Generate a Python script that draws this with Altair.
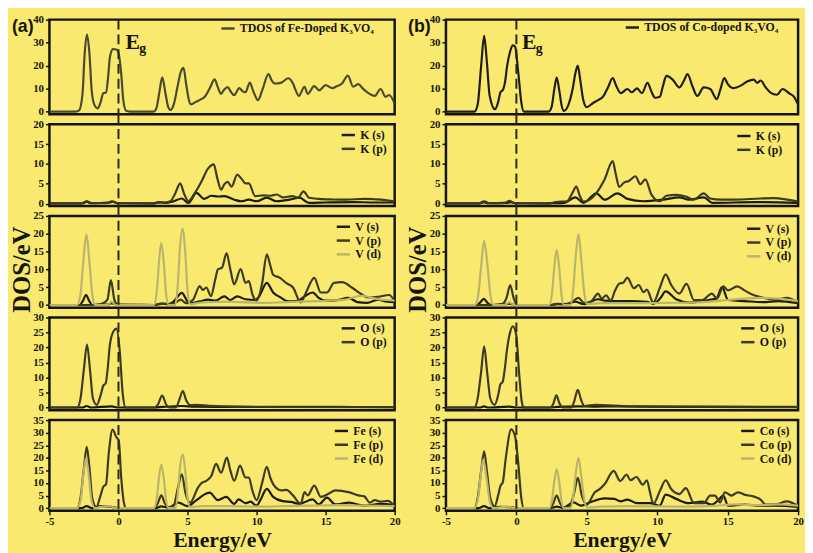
import altair as alt
import pandas as pd

BG = "#F9E96E"
SERIF = "Liberation Serif"
SANS = "Liberation Sans"
C_S = "#1C1C0E"
C_P = "#3C3B22"
C_D = "#BBB46C"
C_TDOS_FE = "#4B4A2C"
C_TDOS_CO = "#1E1E10"
INK = "#151510"

# ---------------- (a) Fe-doped K3VO4 ----------------
TDOS_FE = [(-5,0),(-3.1,0),(-2.85,0.5),(-2.6,8),(-2.45,25),(-2.28,33.5),(-2.1,25),(-1.95,10),(-1.75,3),(-1.5,1.4),(-1.3,4),(-1.1,8),(-0.9,8.3),(-0.75,15),(-0.62,23.7),(-0.4,27.2),(-0.15,27),(-0.03,26.2),(0.1,22),(0.21,15.6),(0.35,5),(0.56,0.3),(0.8,0),(2.55,0),(2.75,1.5),(2.95,8),(3.17,14.9),(3.4,8),(3.6,2),(3.76,0.7),(4.0,3),(4.25,10),(4.5,17),(4.71,19),(4.9,12),(5.1,5),(5.25,3.1),(5.6,4.2),(6.0,5.4),(6.25,6.4),(6.6,10),(6.96,14),(7.2,10.5),(7.43,7.7),(7.65,9.5),(7.9,10.6),(8.15,8.5),(8.38,7.1),(8.55,8.5),(8.73,10.2),(9.0,8.8),(9.2,8.4),(9.51,12.6),(9.75,9),(10.1,5.0),(10.45,10),(10.86,16.3),(11.1,13.5),(11.33,12.2),(11.8,12.6),(12.28,14.5),(12.64,12.2),(12.85,9),(13.06,6.8),(13.47,10.8),(13.7,7.7),(14.18,11.1),(14.53,9.2),(15.0,11.5),(15.48,10.2),(15.8,11),(16.19,12.2),(16.61,15.6),(17.0,10.8),(17.37,11.9),(17.7,10),(18.08,8.1),(18.56,6.8),(18.98,9.8),(19.34,6.4),(19.6,7.2),(20,3.4)]
K_S_FE = [(-5,0.1),(-2.6,0.1),(-2.3,0.5),(-2.0,0.1),(-0.6,0.3),(-0.4,0.5),(0,0.1),(2.5,0.1),(3.0,0.3),(3.5,0.2),(4.0,0.6),(4.59,1.3),(5.06,0.2),(5.65,2.7),(6.2,1.2),(6.72,2.0),(7.2,1.8),(7.67,1.9),(8.38,1.0),(8.9,0.6),(9.44,1.0),(10.0,0.6),(10.74,1.5),(11.45,0.6),(12.4,1.0),(13.1,1.5),(13.8,0.2),(15,0.3),(17,0.4),(18.5,0.3),(20,0.3)]
K_P_FE = [(-5,0),(-2.7,0),(-2.3,0.6),(-1.9,0.1),(-0.8,0.2),(-0.5,0.6),(-0.1,0.1),(2.5,0),(2.93,0.4),(3.4,0.3),(3.76,0.6),(4.1,2.5),(4.47,5.1),(4.75,2.5),(5.06,0.65),(5.5,2.5),(6.0,5.5),(6.48,8.8),(6.9,9.9),(7.15,6.5),(7.43,3.5),(7.65,4.8),(7.9,5.5),(8.19,4.3),(8.6,7.3),(8.9,6.3),(9.2,5.1),(9.44,5.1),(9.9,1.9),(10.5,2.1),(11.0,2.0),(11.45,2.3),(11.9,1.6),(12.6,1.9),(13.0,1.5),(13.4,3.1),(13.8,1.5),(14.5,1.2),(15.48,1.05),(16.5,1.0),(17.8,1.2),(18.5,1.1),(19.3,0.9),(20,0.5)]
V_S_FE = [(-5,0),(-2.8,0),(-2.6,1.0),(-2.35,2.8),(-2.1,1.0),(-1.9,0),(-0.8,0.1),(-0.5,0.5),(-0.2,0.1),(2.6,0),(3.1,0.4),(3.6,0.2),(4.0,1.0),(4.59,3.4),(5.0,1.0),(5.3,0.5),(5.89,1.0),(6.5,1.5),(7.0,1.2),(7.67,2.4),(8.1,1.4),(8.6,2.4),(9.2,1.6),(9.9,1.4),(10.2,2.5),(10.74,6.2),(11.2,3.5),(11.7,2.2),(12.3,1.0),(13.0,1.2),(13.5,2.5),(14.06,3.5),(14.5,2.0),(15.0,1.2),(15.6,1.2),(16.66,2.0),(17.3,0.8),(18,0.6),(18.8,1.5),(19.3,1.0),(20,0.8)]
V_P_FE = [(-5,0),(-1.8,0),(-1.2,0.3),(-0.8,1.5),(-0.55,7.0),(-0.3,1.5),(-0.1,0.2),(0.2,0),(2.6,0),(3.1,0.3),(3.8,0.3),(4.2,0.8),(4.5,1.5),(4.9,0.5),(5.4,1.5),(5.89,5.3),(6.1,4.2),(6.36,4.9),(6.7,2.5),(7.0,7),(7.2,10),(7.5,10.5),(7.83,14.5),(8.1,10),(8.38,5.8),(8.85,10.1),(9.2,6.2),(9.44,6.7),(9.7,3),(10.0,1.2),(10.4,6),(10.74,14.2),(11.0,11),(11.2,8.5),(11.7,7.6),(12.16,6.1),(12.64,4.9),(13.2,0.7),(13.58,3.5),(14.18,7.6),(14.65,3.5),(15.1,3.5),(15.6,6.2),(16.2,6.4),(16.9,4.9),(17.6,3.0),(18.08,2.1),(18.8,2.3),(19.6,2.8),(20,1.0)]
V_D_FE = [(-5,0),(-3.0,0),(-2.75,3),(-2.55,12),(-2.32,19.8),(-2.1,12),(-1.9,3),(-1.69,0),(-0.8,0),(-0.5,0.9),(-0.2,0),(2.58,0),(2.8,5),(2.95,13),(3.1,17.4),(3.3,11),(3.45,3),(3.64,0),(4.11,0),(4.3,6),(4.45,16),(4.64,21.4),(4.85,14),(5.0,4),(5.18,0.2),(6.0,0.7),(8.0,0.9),(10.5,0.6),(12.8,0.9),(15.2,1.2),(16.4,1.5),(17.6,2.6),(18.8,1.6),(20,1.2)]
O_S_FE = [(-5,0),(-2.6,0),(-2.3,0.5),(-2.0,0),(-0.5,0.4),(0,0),(2.6,0),(3.2,0.2),(4.6,0.5),(5.5,0.3),(8,0.2),(20,0.1)]
O_P_FE = [(-5,0),(-2.99,0),(-2.75,3),(-2.5,13),(-2.28,21.0),(-2.05,12),(-1.85,3),(-1.57,0.9),(-1.3,4),(-1.09,7.4),(-0.93,8.0),(-0.78,13),(-0.62,21),(-0.35,25.5),(-0.15,26.3),(0.09,18.9),(0.3,5),(0.52,0),(2.6,0),(2.85,1),(3.17,4.0),(3.45,1),(3.7,0),(4.15,0),(4.4,2.5),(4.66,5.5),(4.9,2.5),(5.18,0.8),(5.6,0.9),(6.6,0.6),(8.4,0.3),(12,0.2),(16,0.2),(20,0.1)]
FE_S = [(-5,0),(-2.7,0),(-2.3,0.8),(-1.9,0),(-1.3,0.8),(-0.6,0.6),(0,0),(2.7,0),(3.1,0.7),(3.6,0.3),(4.35,2.2),(5.0,0.8),(5.6,3),(6.36,5.8),(6.6,6.2),(7.2,3.2),(7.8,4.5),(8.38,1.7),(8.7,3.5),(9.2,2.0),(9.56,2.6),(10.0,1.0),(10.3,3.5),(10.74,7.7),(11.2,4.5),(11.9,2.8),(12.5,2.5),(13.1,1.7),(14.06,3.5),(14.5,1.5),(15.1,4.2),(15.7,1.5),(16.7,2.2),(17.8,1.0),(19.0,1.7),(20,1.2)]
FE_P = [(-5,0),(-3.0,0),(-2.75,4),(-2.5,16),(-2.3,24.4),(-2.1,16),(-1.9,4),(-1.6,0.5),(-1.3,5),(-1.1,8.5),(-0.9,9.5),(-0.7,22),(-0.43,31.2),(-0.15,28.2),(0.02,26.9),(0.2,12),(0.4,2),(0.56,0),(2.6,0),(2.85,2),(3.1,5.1),(3.35,2),(3.6,0.2),(4.0,1),(4.3,8),(4.59,13.5),(4.85,6),(5.18,2.2),(5.77,8.3),(6.0,9.9),(6.36,10.9),(6.72,12.8),(7.07,17.6),(7.43,14.1),(7.85,20.1),(8.1,15),(8.38,10.9),(8.8,16.9),(9.2,12.2),(9.44,12.2),(9.7,7),(10.0,3.2),(10.4,10),(10.74,16.4),(11.0,12),(11.2,9.6),(11.8,7.1),(12.16,7.3),(12.64,5.1),(13.2,1.7),(13.47,6.4),(13.7,5.1),(14.18,9.0),(14.65,4.5),(15.24,5.8),(15.7,7.1),(16.66,6.4),(17.37,5.1),(17.8,4.7),(18.2,2.2),(18.56,3.2),(19.0,2.6),(19.5,2.9),(20,0.8)]
FE_D = [(-5,0),(-3.0,0),(-2.75,3),(-2.55,13),(-2.35,19.9),(-2.15,13),(-1.95,3),(-1.7,0),(-1.3,0.5),(-0.6,0.8),(-0.2,0),(2.58,0),(2.8,5),(2.95,13),(3.1,17.3),(3.3,11),(3.45,3),(3.64,0),(4.11,0),(4.3,6),(4.45,16),(4.66,21.4),(4.85,14),(5.0,4),(5.18,0.5),(6.0,0.8),(8,0.8),(10,0.6),(12,0.8),(14,1.0),(16,1.2),(18,1.0),(20,0.8)]

# ---------------- (b) Co-doped K3VO4 ----------------
TDOS_CO = [(-5,0),(-2.98,0),(-2.75,3),(-2.5,20),(-2.29,32.9),(-2.1,22),(-1.9,7),(-1.52,1.0),(-1.3,4),(-1.13,8.4),(-0.95,9.5),(-0.8,13),(-0.67,19.3),(-0.45,26),(-0.25,28.8),(-0.09,28.2),(0.14,16.6),(0.35,4),(0.53,0),(2.29,0),(2.5,2),(2.7,10),(2.86,14.8),(3.05,9),(3.2,3),(3.37,0.3),(3.7,3),(4.0,10),(4.2,17),(4.36,20.0),(4.55,13),(4.75,5),(4.99,1.9),(5.4,3.5),(5.8,5.0),(6.14,6.4),(6.5,10.5),(6.84,14.6),(7.1,11),(7.41,8.0),(7.88,9.8),(8.2,8.4),(8.57,10.1),(8.91,8.0),(9.31,12.5),(9.6,8.5),(9.84,6.0),(10.18,6.4),(10.4,11),(10.65,15.5),(11.1,13.9),(11.57,10.5),(11.9,13.5),(12.15,16.3),(12.5,11),(12.84,6.8),(13.3,10.5),(13.76,9.8),(14.23,5.4),(14.5,10),(14.76,14.6),(15.0,12),(15.38,10.2),(15.96,11.4),(16.42,13.2),(16.84,13.9),(17.1,12.5),(17.34,13.5),(17.7,10.5),(18.04,8.2),(18.5,7.3),(18.9,9.8),(19.4,7.8),(19.7,6.5),(20,3.0)]
K_S_CO = [(-5,0.1),(-2.6,0.1),(-2.3,0.4),(-2.0,0.1),(-0.6,0.2),(-0.4,0.4),(0,0.1),(2.5,0.1),(3.4,0.2),(4.18,1.6),(4.76,0.2),(5.68,2.6),(6.26,1.0),(7.18,2.6),(7.88,1.2),(9.03,0.6),(10.4,1.0),(11.57,1.6),(12.26,1.0),(13.3,1.6),(13.9,0.2),(17,0.4),(20,0.2)]
K_P_CO = [(-5,0),(-2.7,0),(-2.3,0.6),(-1.9,0.1),(-0.8,0.2),(-0.5,0.7),(-0.1,0.1),(2.3,0),(2.8,0.4),(3.6,0.6),(3.95,2.5),(4.25,4.3),(4.5,2),(4.76,0.5),(5.57,2.2),(6.26,6.1),(6.84,10.7),(7.05,7.5),(7.3,4.2),(7.64,5.3),(7.99,5.7),(8.45,6.9),(8.8,4.9),(9.15,6.1),(9.6,2.2),(10.18,0.6),(10.65,2.0),(11.34,2.2),(12.03,1.8),(12.6,1.0),(13.3,2.6),(13.76,1.3),(14.5,1.0),(15.5,1.0),(17.34,1.3),(18.27,1.4),(20,0.5)]
V_S_CO = [(-5,0),(-2.8,0),(-2.55,0.8),(-2.3,1.7),(-2.05,0.6),(-1.8,0),(-0.8,0.1),(-0.5,0.4),(-0.1,0),(2.4,0),(2.9,0.3),(3.5,0.2),(4.18,0.9),(4.8,0.2),(5.8,1.6),(6.3,1.2),(7.0,1.1),(8.1,1.1),(9.26,0.9),(9.72,0.4),(10.2,1.8),(10.6,3.8),(11.34,1.6),(12.26,0.7),(13.65,1.4),(14.2,1.8),(14.6,5.0),(15.03,1.4),(16.2,1.1),(17.5,0.8),(18.6,1.1),(20,0.5)]
V_P_CO = [(-5,0),(-1.6,0),(-1.0,0.3),(-0.7,2),(-0.44,5.6),(-0.2,2),(0.05,0),(2.4,0),(2.9,0.2),(3.6,0.3),(4.0,1.0),(4.41,2.0),(4.8,0.6),(5.3,1.0),(5.8,3.2),(6.05,1.8),(6.37,2.7),(6.7,1.2),(7.0,4),(7.3,6.0),(7.6,6.3),(7.88,7.7),(8.34,4.7),(8.68,5.6),(9.03,3.6),(9.26,4.3),(9.72,0.7),(10.2,5),(10.6,8.6),(10.99,5.6),(11.57,3.2),(12.08,5.9),(12.61,1.4),(13.2,1.4),(13.88,3.2),(14.25,1.8),(14.69,5.2),(15.03,4.1),(15.68,5.2),(16.19,4.1),(16.88,2.7),(17.57,2.0),(18.4,1.5),(19.2,2.0),(20,0.7)]
V_D_CO = [(-5,0),(-2.93,0),(-2.7,3),(-2.5,11),(-2.29,18.0),(-2.05,11),(-1.85,3),(-1.64,0),(-0.8,0),(-0.5,0.8),(-0.2,0),(2.33,0),(2.55,4),(2.7,11),(2.86,15.5),(3.05,10),(3.2,3),(3.37,0),(3.83,0),(4.05,5),(4.22,14),(4.41,19.8),(4.6,13),(4.8,4),(4.99,0.3),(6.0,0.5),(8.0,0.5),(10.5,0.6),(12.6,0.7),(14.0,1.0),(15.0,1.4),(17.3,2.0),(18.6,1.8),(20,1.1)]
O_S_CO = [(-5,0),(-2.6,0),(-2.3,0.4),(-2.0,0),(-0.5,0.3),(0,0),(2.4,0),(2.9,0.2),(4.4,0.4),(5.5,0.3),(7,0.4),(9,0.3),(13,0.2),(20,0.1)]
O_P_CO = [(-5,0),(-2.98,0),(-2.75,3),(-2.5,12),(-2.29,20.4),(-2.08,12),(-1.85,3),(-1.55,0.9),(-1.3,4),(-1.13,7.8),(-0.97,8.6),(-0.82,13),(-0.67,19.1),(-0.45,25),(-0.25,27.1),(-0.02,24.4),(0.21,10.5),(0.38,2),(0.53,0),(2.4,0),(2.6,1),(2.84,4.1),(3.05,1.5),(3.3,0),(3.9,0),(4.1,2),(4.36,5.9),(4.6,2.5),(4.83,0.5),(5.6,0.9),(8.1,0.4),(12,0.3),(20,0.2)]
CO_S = [(-5,0),(-2.7,0),(-2.3,0.8),(-1.9,0),(-1.2,0.5),(-0.5,0.4),(0,0),(2.4,0),(2.86,0.6),(3.3,0.1),(4.06,2.3),(4.6,1.0),(5.3,2.5),(6.26,3.9),(6.95,3.7),(7.4,2.7),(7.88,3.4),(8.57,2.0),(9.5,2.0),(10.18,1.0),(10.6,5.4),(11.34,3.7),(12.26,2.0),(13.2,2.6),(13.88,1.4),(14.3,3),(14.69,5.0),(15.03,1.0),(16.2,1.4),(17.3,1.0),(18.5,1.0),(20,0.5)]
CO_P = [(-5,0),(-2.98,0),(-2.75,4),(-2.5,15),(-2.29,22.6),(-2.08,14),(-1.85,4),(-1.55,0.7),(-1.3,5),(-1.13,8.9),(-0.97,10.2),(-0.75,20),(-0.37,31.3),(-0.09,28.5),(0.14,17.4),(0.35,4),(0.53,0),(2.4,0),(2.62,2),(2.86,5.0),(3.1,2),(3.37,0.2),(3.8,1),(4.1,6),(4.36,12.1),(4.65,5),(4.99,1.4),(5.57,6.3),(5.91,7.6),(6.26,9.5),(6.91,14.8),(7.37,10.8),(7.83,13.4),(8.1,11.1),(8.52,12.4),(8.98,9.3),(9.26,11.1),(9.5,6),(9.72,1.7),(10.2,7),(10.6,11.1),(10.99,7.6),(11.57,5.6),(12.03,8.0),(12.61,2.0),(13.3,2.0),(13.76,5.0),(14.1,5.0),(14.46,2.3),(14.8,6.3),(15.27,5.0),(15.73,6.3),(16.19,5.4),(16.88,4.6),(17.34,3.4),(17.69,1.4),(18.5,1.6),(19.2,2.7),(20,0.8)]
CO_D = [(-5,0),(-2.98,0),(-2.75,3),(-2.55,12),(-2.35,19.3),(-2.12,12),(-1.9,3),(-1.65,0),(-1.2,0.3),(-0.6,0.6),(-0.2,0),(2.33,0),(2.55,4),(2.7,11),(2.86,15.4),(3.05,10),(3.2,3),(3.37,0),(3.83,0),(4.05,5),(4.22,14),(4.41,20.0),(4.6,13),(4.8,4),(4.99,0.3),(6,0.6),(8,0.8),(10,0.7),(12,0.6),(14,0.9),(15.5,1.5),(17,1.2),(18.5,1.5),(20,1.0)]

X_TICKS = [-5, 0, 5, 10, 15, 20]
Y_MAX = [40, 20, 25, 30, 35]
Y_STEP = [10, 5, 5, 5, 5]
PANEL_TAGS = ["(a)", "(b)"]
GAP_LABEL = ["E", "g"]
Y_TITLE = "DOS/eV"
X_TITLE = "Energy/eV"

HEIGHTS = [96, 83, 93, 94, 92]
VSPACE = 10


def make_panel(idx, curves, names, colors, w, legend_xy, tag=None):
    h = HEIGHTS[idx]
    rows = []
    for name, pts in zip(names, curves):
        for e, d in pts:
            rows.append({"E": e, "DOS": d, "series": name})
    df = pd.DataFrame(rows)
    if idx == 4:
        xaxis = alt.Axis(values=X_TICKS, labelExpr="'' + datum.value", title=X_TITLE,
                         titleFont=SERIF, titleFontWeight="bold", titleFontSize=22,
                         titleColor=INK, titlePadding=3, labelFont=SERIF,
                         labelFontWeight="bold", labelFontSize=11, labelColor=INK,
                         tickSize=4, tickWidth=1.5, tickColor=INK, domain=False,
                         grid=False, labelPadding=1, labelFlush=False)
    else:
        xaxis = None
    xenc = alt.X("E:Q", scale=alt.Scale(domain=[-5, 20], nice=False, zero=False), axis=xaxis)
    yticks = list(range(0, Y_MAX[idx] + 1, Y_STEP[idx]))
    ymin = -0.03 * Y_MAX[idx]
    lines = alt.Chart(df).mark_line(strokeWidth=2.2, interpolate="monotone", clip=True).encode(
        x=xenc,
        y=alt.Y("DOS:Q", scale=alt.Scale(domain=[ymin, Y_MAX[idx]], nice=False, zero=False),
                axis=alt.Axis(values=yticks, title=None, labelFont=SERIF,
                              labelFontWeight="bold", labelFontSize=11, labelColor=INK,
                              tickSize=4, tickWidth=1.5, tickColor=INK, domain=False,
                              grid=False, labelPadding=2)),
        color=alt.Color("series:N", scale=alt.Scale(domain=names, range=colors),
                        legend=alt.Legend(orient="none", legendX=legend_xy[0],
                                          legendY=legend_xy[1], title=None)),
    )
    top = 0 if idx == 0 else -VSPACE
    rule = alt.Chart(pd.DataFrame({"E": [0]})).mark_rule(
        strokeDash=[10, 5], strokeWidth=2, color="#2A2A18").encode(
        x=xenc, y=alt.value(top), y2=alt.value(h))
    layers = [lines, rule]
    if idx == 0:
        layers.append(alt.Chart(pd.DataFrame({"t": [tag]})).mark_text(
            font=SANS, fontWeight="bold", fontSize=18, color=INK,
            align="center", baseline="middle").encode(
            text="t:N", x=alt.value(-27), y=alt.value(8)))
        layers.append(alt.Chart(pd.DataFrame({"t": [GAP_LABEL[0]]})).mark_text(
            font=SERIF, fontWeight="bold", fontSize=22, color=INK,
            align="left", baseline="alphabetic").encode(
            text="t:N", x=alt.value(77), y=alt.value(30)))
        layers.append(alt.Chart(pd.DataFrame({"t": [GAP_LABEL[1]]})).mark_text(
            font=SERIF, fontWeight="bold", fontSize=14, color=INK,
            align="left", baseline="alphabetic").encode(
            text="t:N", x=alt.value(91), y=alt.value(34)))
    if idx == 2:
        layers.append(alt.Chart(pd.DataFrame({"t": [Y_TITLE]})).mark_text(
            font=SERIF, fontWeight="bold", fontSize=25, color=INK, angle=270,
            align="center", baseline="middle").encode(
            text="t:N", x=alt.value(-28), y=alt.value(h / 2 + 8)))
    return alt.layer(*layers).properties(width=w, height=h)


def column(sets, w, legends, tag):
    panels = []
    for i, (curves, names, colors) in enumerate(sets):
        panels.append(make_panel(i, curves, names, colors, w, legends[i], tag))
    return alt.vconcat(*panels, spacing=VSPACE, bounds="flush").resolve_scale(
        y="independent", color="independent").resolve_legend(color="independent")


left_sets = [
    ([TDOS_FE], ["TDOS of Fe-Doped K\u2083VO\u2084"], [C_TDOS_FE]),
    ([K_S_FE, K_P_FE], ["K (s)", "K (p)"], [C_S, C_P]),
    ([V_D_FE, V_S_FE, V_P_FE], ["V (s)", "V (p)", "V (d)"], None),
    ([O_S_FE, O_P_FE], ["O (s)", "O (p)"], [C_S, C_P]),
    ([FE_D, FE_S, FE_P], ["Fe (s)", "Fe (p)", "Fe (d)"], None),
]
right_sets = [
    ([TDOS_CO], ["TDOS of Co-doped K\u2083VO\u2084"], [C_TDOS_CO]),
    ([K_S_CO, K_P_CO], ["K (s)", "K (p)"], [C_S, C_P]),
    ([V_D_CO, V_S_CO, V_P_CO], ["V (s)", "V (p)", "V (d)"], None),
    ([O_S_CO, O_P_CO], ["O (s)", "O (p)"], [C_S, C_P]),
    ([CO_D, CO_S, CO_P], ["Co (s)", "Co (p)", "Co (d)"], None),
]


def fix(sets):
    out = []
    for curves, names, colors in sets:
        if colors is None:
            # curves given as (d, s, p); map to names (s, p, d)
            d, s, p = curves
            curves = [s, p, d]
            colors = [C_S, C_P, C_D]
        out.append((curves, names, colors))
    return out


left = column(fix(left_sets), 350,
              [(173, 1), (295, 3), (290, 3), (295, 3), (288, 3)], PANEL_TAGS[0])
right = column(fix(right_sets), 357,
               [(181, 0), (294, 4), (304, 5), (298, 3), (298, 3)], PANEL_TAGS[1])

chart = alt.hconcat(left, right, spacing=3).resolve_scale(
    y="independent", color="independent").resolve_legend(color="independent").properties(
    padding=0, background=BG
).configure_view(stroke=INK, strokeWidth=2.5, fill=BG).configure_legend(
    labelFont=SERIF, labelFontWeight="bold", labelFontSize=12, labelColor=INK,
    symbolType="stroke", symbolStrokeWidth=2.5, symbolSize=180, rowPadding=0,
    padding=0, labelOffset=4, symbolOffset=0
)

chart.save("out.html", embed_options={"renderer": "svg", "actions": False})
